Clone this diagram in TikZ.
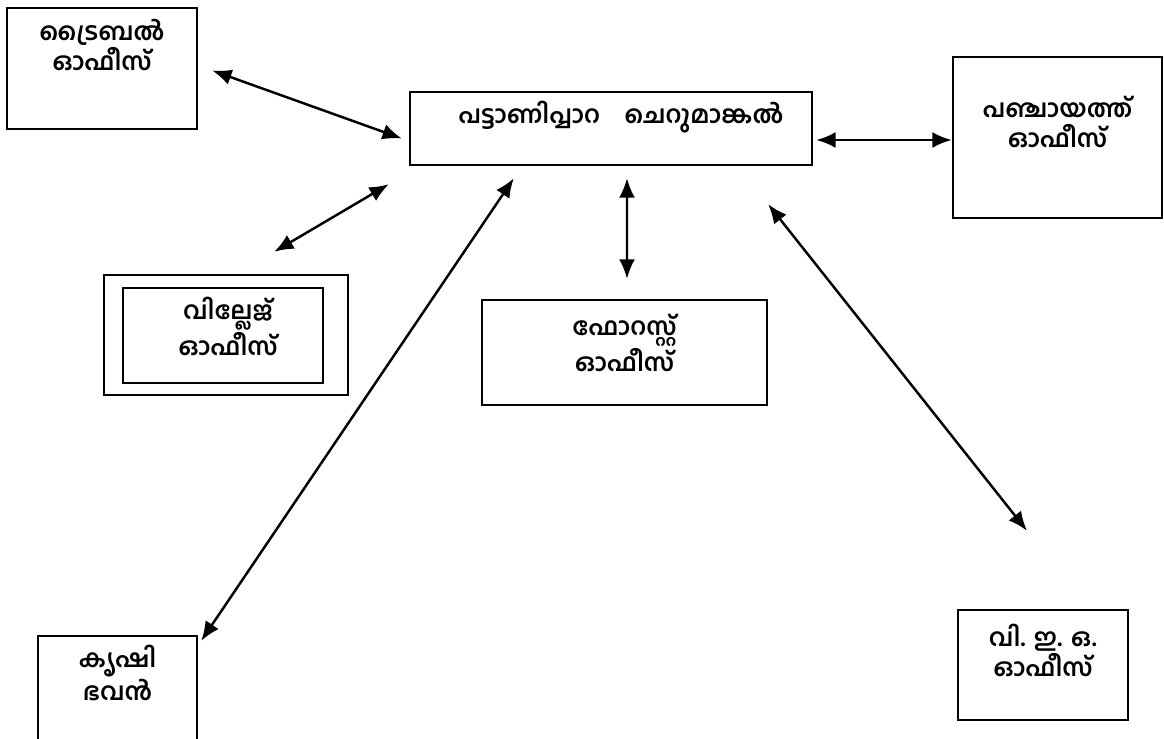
\documentclass[tikz,border=0pt]{standalone}
\usepackage{fontspec}
\newfontfamily\mlfont[Script=Malayalam]{Hind Kochi}
\usepackage{tikz}
\usetikzlibrary{calc,arrows.meta,positioning}
\tikzset{
    office/.style={
    rectangle,draw=black,line width=1.4pt,inner sep=0pt
    },
    caption/.style={
    font=\mlfont\bfseries\fontsize{14}{17}\selectfont,align=center,inner sep=0pt
    },
    link/.style={
    {Latex[length=11pt,width=9pt]}-{Latex[length=11pt,width=9pt]},line width=1.4pt
    },
}
\begin{document}
\begin{tikzpicture}[x=0.02cm, y=-0.02cm, node distance=0.5cm]
   \useasboundingbox (0,0) rectangle (1164,738);

   %boxes
   \node[office,minimum width=3.8cm,minimum height=2.42cm] (tribal) at (102,68.5) {};
   \node[office,minimum width=8.04cm,minimum height=1.46cm] (centre) at (611,128.5) {};
   \node[office,minimum width=4.18cm,minimum height=3.22cm] (panch) at (1057.5,137.5) {};
   \node[office,minimum width=4.88cm,minimum height=2.4cm] (village) at (226,335) {};
   \node[office,minimum width=4.0cm,minimum height=1.9cm] (villagein) at (223,335.5) {};
   \node[office,minimum width=5.7cm,minimum height=2.1cm] (forest) at (624.5,352.5) {};
   \node[office,minimum width=3.18cm,minimum height=2.18cm] (krishi) at (117.5,690.5) {};
   \node[office,minimum width=3.4cm,minimum height=2.2cm] (veo) at (1043,665) {};

   %texts
   \node[caption,below=0.24cm of tribal.north] (tribaltxt) {ട്രൈബൽ\\ഓഫീസ്};
   \node[caption,below=0.2cm of centre.north,xshift=0.2cm] (centretxt) {പട്ടാണിപ്പാറ\quad ചെറുമാങ്കൽ};
   \node[caption,below=0.8cm of panch.north] (panchtxt) {പഞ്ചായത്ത്\\ഓഫീസ്};
   \node[caption,below=0.2cm of villagein.north,xshift=0.1cm] (villagetxt) {വില്ലേജ്\\ഓഫീസ്};
   \node[caption,below=0.3cm of forest.north] (foresttxt) {ഫോറസ്റ്റ്\\ഓഫീസ്};
   \node[caption,below=0.2cm of krishi.north] (krishitxt) {കൃഷി\\ഭവൻ};
   \node[caption,below=0.3cm of veo.north] (veotxt) {വി. ഇ. ഒ.\\ഓഫീസ്};

   %arrow ends
   \coordinate (t1) at ($(tribal.east)+(14,2)$);
   \coordinate (t2) at ($(centre.west)+(-7,10)$);
   \coordinate (v1) at ($(village.north east)+(-75,-22)$);
   \coordinate (v2) at ($(centre.south west)+(-20,18)$);
   \coordinate (f1) at ($(centre.south)+(16,12)$);
   \coordinate (f2) at ($(forest.north)+(2.5,-20)$);
   \coordinate (p1) at ($(centre.east)+(3,11.5)$);
   \coordinate (p2) at ($(panch.west)+(0,2.5)$);
   \coordinate (e1) at ($(centre.south east)+(-45,38)$);
   \coordinate (e2) at ($(veo.north)+(-16,-78)$);
   \coordinate (k1) at ($(krishi.north east)+(3,6)$);
   \coordinate (k2) at ($(centre.south west)+(105,12)$);

  \path[link]
    (t1) edge (t2)
    (v1) edge (v2)
    (f1) edge (f2)
    (p1) edge (p2)
    (e1) edge (e2)
    (k1) edge (k2);
\end{tikzpicture}
\end{document}
